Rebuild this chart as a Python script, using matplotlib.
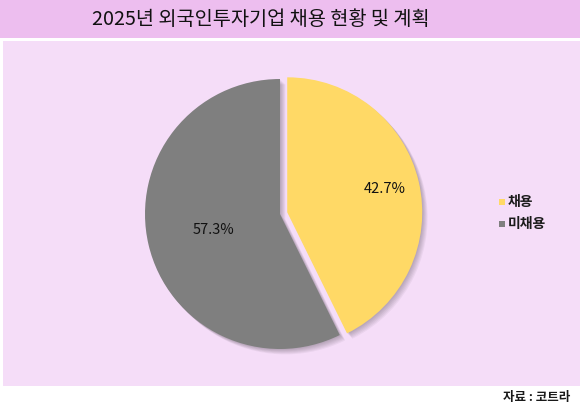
import numpy as np
import matplotlib
matplotlib.use("Agg")
import matplotlib.pyplot as plt
from matplotlib.patches import Rectangle

plt.rcParams['font.family'] = ['Noto Sans CJK KR', 'DejaVu Sans']

# Data
title = "2025년 외국인투자기업 채용 현황 및 계획"
categories = ["채용", "미채용"]
values = [42.7, 57.3]
colors = ["#FFD966", "#7F7F7F"]
source = "자료 : 코트라"

W, H = 580, 412
fig = plt.figure(figsize=(W / 100, H / 100), dpi=100)
fig.patch.set_facecolor("white")
ax = fig.add_axes([0, 0, 1, 1])

def Y(y):
    return H - y

cx, cy, r = 280, Y(214), 135
explode = [0.055 * r, 0.0]

# soft shadow
for k in range(1, 7):
    sw, _ = ax.pie(values, radius=r, center=(cx + k * 0.9, cy - k * 0.9), startangle=90,
                   counterclock=False, explode=explode, colors=["black", "black"],
                   wedgeprops=dict(linewidth=0, alpha=0.045), frame=True)
    for w in sw:
        w.set_zorder(1)

wedges, _ = ax.pie(values, radius=r, center=(cx, cy), startangle=90, counterclock=False,
                   explode=explode, colors=colors, wedgeprops=dict(linewidth=0), frame=True)
for w in wedges:
    w.set_zorder(2)

ax.set_xlim(0, W)
ax.set_ylim(0, H)
ax.set_aspect("equal")
ax.axis("off")

# title band and panel
ax.add_patch(Rectangle((0, Y(38)), W, 38, facecolor="#EDBEEF", edgecolor="none", zorder=0))
ax.add_patch(Rectangle((3, Y(386)), W - 3, 386 - 41, facecolor="#F5DDF8", edgecolor="none", zorder=0))
ax.text(261, Y(19), title, ha="center", va="center", fontsize=14.2, color="#111111", zorder=5)

# percentage labels
label_dist = [0.745, 0.507]
for w, v, d in zip(wedges, values, label_dist):
    ang = np.deg2rad((w.theta1 + w.theta2) / 2)
    wx, wy = w.center
    ax.text(wx + d * r * np.cos(ang), wy + d * r * np.sin(ang), f"{v:.1f}%",
            ha="center", va="center", fontsize=10.5, fontweight="medium", color="#111111", zorder=5)

# legend
for i, (c, lab) in enumerate(zip(colors, categories)):
    yy = Y(202 + i * 22)
    ax.add_patch(Rectangle((499, yy - 3), 6, 6, facecolor=c, edgecolor="none", zorder=5))
    ax.text(508, yy, lab, ha="left", va="center", fontsize=10, fontweight="bold",
            color="#1a1a1a", zorder=5)

ax.text(570, Y(398), source, ha="right", va="center", fontsize=9, fontweight="bold",
        color="#1a1a1a")

fig.savefig("out.png", dpi=100)
